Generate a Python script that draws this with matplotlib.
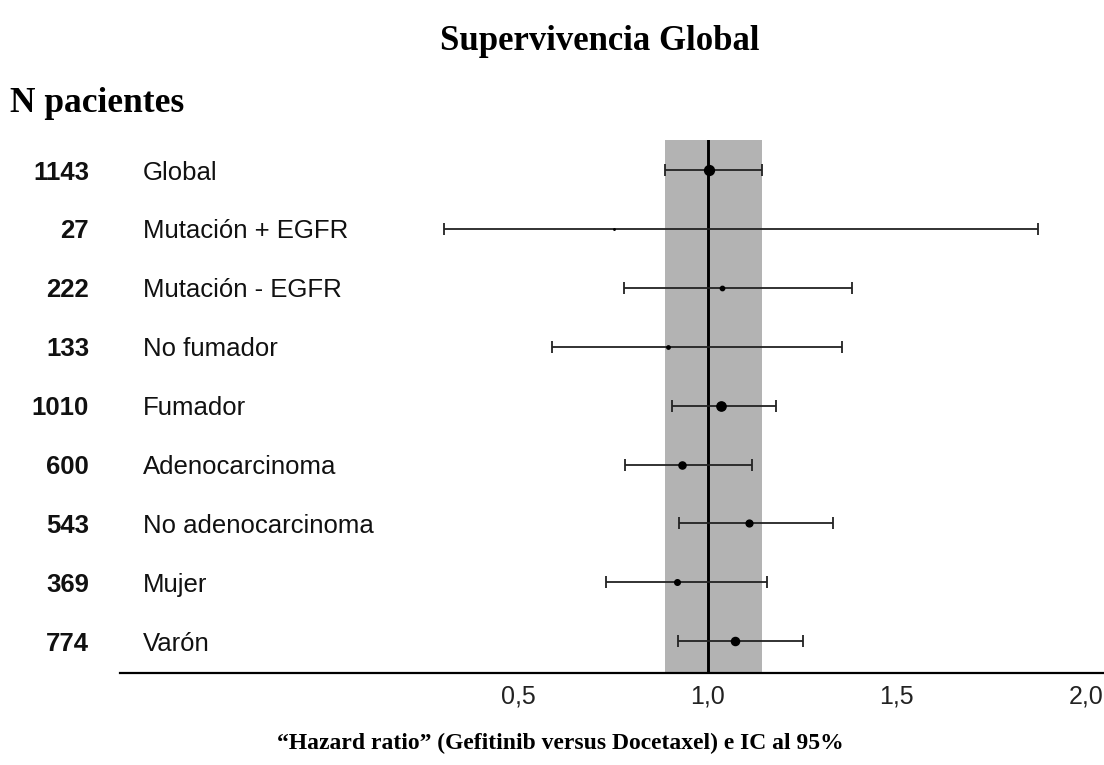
import numpy as np
import matplotlib
matplotlib.use("Agg")
import matplotlib.pyplot as plt
from matplotlib.transforms import blended_transform_factory

# ---- data ----
n_pacientes = [1143, 27, 222, 133, 1010, 600, 543, 369, 774]
subgrupos = ["Global", "Mutación + EGFR", "Mutación - EGFR", "No fumador",
             "Fumador", "Adenocarcinoma", "No adenocarcinoma", "Mujer", "Varón"]
hr = [1.003, 0.752, 1.038, 0.895, 1.034, 0.932, 1.109, 0.919, 1.072]
ic_inf = [0.887, 0.303, 0.780, 0.588, 0.906, 0.781, 0.923, 0.730, 0.922]
ic_sup = [1.144, 1.873, 1.381, 1.355, 1.181, 1.117, 1.331, 1.157, 1.252]
xticks = [0.5, 1.0, 1.5, 2.0]
xticklabels = ["0,5", "1,0", "1,5", "2,0"]

W, H = 1104, 765
fig = plt.figure(figsize=(W / 100, H / 100), dpi=100)
ax = fig.add_axes([120 / W, (H - 673) / H, (W - 120) / W, (673 - 140) / H])

ypos = np.arange(len(subgrupos))
ax.set_xlim(-0.554, 2.048)
ax.set_ylim(8.54, -0.51)

# shaded band = global CI
ax.axvspan(ic_inf[0], ic_sup[0], color="#b3b3b3", lw=0, zorder=0)
ax.axvline(1.0, color="black", lw=2.1, zorder=2)

for i in range(len(subgrupos)):
    ax.errorbar(hr[i], ypos[i],
                xerr=[[hr[i] - ic_inf[i]], [ic_sup[i] - hr[i]]],
                fmt="o", color="#111111", ecolor="#222222",
                elinewidth=1.3, capsize=4.5, capthick=1.3,
                ms=0.21 * np.sqrt(n_pacientes[i]), mec="black", mfc="black",
                zorder=3)

for s in ["top", "right", "left"]:
    ax.spines[s].set_visible(False)
ax.spines["bottom"].set_linewidth(1.6)
ax.spines["bottom"].set_color("black")
ax.set_yticks([])
ax.set_xticks(xticks)
ax.set_xticklabels(xticklabels, family="Liberation Sans", fontsize=18, color="#222222")
ax.tick_params(axis="x", length=0, pad=8)

tr = blended_transform_factory(fig.transFigure, ax.transData)
for i in range(len(subgrupos)):
    ax.text(89 / W, ypos[i], str(n_pacientes[i]), transform=tr, ha="right",
            va="center_baseline", family="Liberation Sans", fontweight="bold",
            fontsize=18.5, color="#111111", clip_on=False)
    ax.text(143 / W, ypos[i], subgrupos[i], transform=tr, ha="left",
            va="center_baseline", family="Liberation Sans",
            fontsize=18.5, color="#111111", clip_on=False)

fig.text(600 / W, 1 - 41 / H, "Supervivencia Global", ha="center", va="center",
         family="Liberation Serif", fontweight="bold", fontsize=25)
fig.text(10 / W, 1 - 104 / H, "N pacientes", ha="left", va="center",
         family="Liberation Serif", fontweight="bold", fontsize=25.5)
fig.text(560 / W, 1 - 743 / H,
         "\u201cHazard ratio\u201d (Gefitinib versus Docetaxel) e IC al 95%",
         ha="center", va="center", family="Liberation Serif", fontweight="bold",
         fontsize=17)

fig.savefig("out.png", dpi=100)
